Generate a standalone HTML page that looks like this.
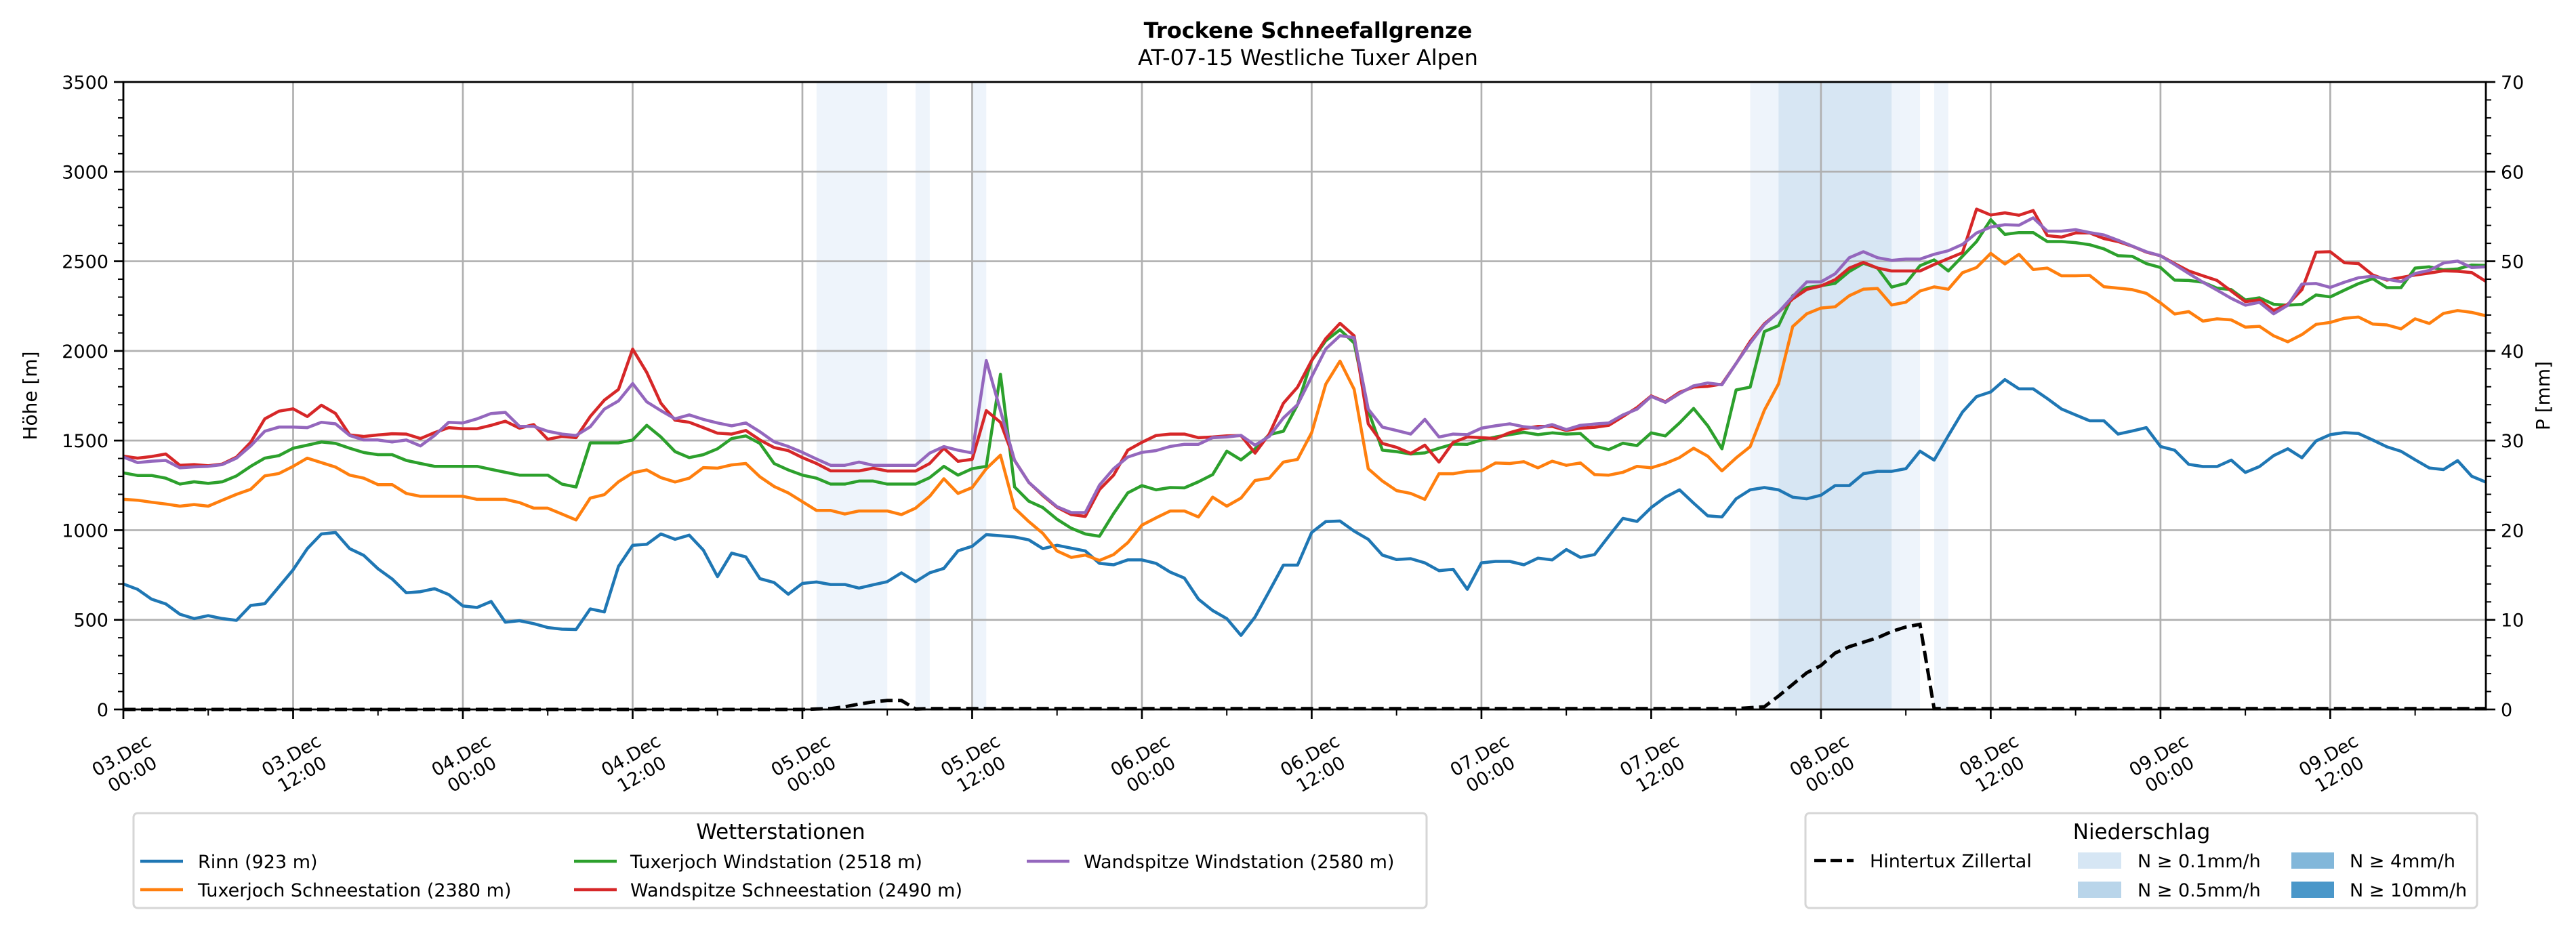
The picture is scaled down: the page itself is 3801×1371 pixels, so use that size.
<!DOCTYPE html>
<html><head><meta charset="utf-8"><style>
html,body{margin:0;padding:0;background:#fff;}
svg{display:block;font-family:"DejaVu Sans","Liberation Sans",sans-serif;}
</style></head><body>
<svg id="chart" width="3801" height="1371" viewBox="0 0 3801 1371" xmlns="http://www.w3.org/2000/svg">
<rect x="0" y="0" width="3801" height="1371" fill="#fff"/>
<text x="1930" y="56" text-anchor="middle" font-size="32" font-weight="bold">Trockene Schneefallgrenze</text>
<text x="1930" y="96" text-anchor="middle" font-size="32">AT-07-15 Westliche Tuxer Alpen</text>
<g id="bands"></g>
<g id="grid"></g>
<g id="series"></g>
<g id="axes"></g>
<text transform="translate(54,584) rotate(-90)" text-anchor="middle" font-size="28">Höhe [m]</text>
<text transform="translate(3762,584) rotate(-90)" text-anchor="middle" font-size="28">P [mm]</text>

<g>
<rect x="197" y="1200" width="1908" height="140" rx="6" fill="#fff" stroke="#d6d6d6" stroke-width="3"/>
<text x="1152" y="1238" text-anchor="middle" font-size="31">Wetterstationen</text>
<g><line x1="207" y1="1271" x2="270" y2="1271" stroke="#1f77b4" stroke-width="4.5"/><text x="292" y="1281" font-size="27">Rinn (923 m)</text></g>
<g><line x1="207" y1="1313" x2="270" y2="1313" stroke="#ff7f0e" stroke-width="4.5"/><text x="292" y="1323" font-size="27">Tuxerjoch Schneestation (2380 m)</text></g>
<g><line x1="847" y1="1271" x2="910" y2="1271" stroke="#2ca02c" stroke-width="4.5"/><text x="930" y="1281" font-size="27">Tuxerjoch Windstation (2518 m)</text></g>
<g><line x1="847" y1="1313" x2="910" y2="1313" stroke="#d62728" stroke-width="4.5"/><text x="930" y="1323" font-size="27">Wandspitze Schneestation (2490 m)</text></g>
<g><line x1="1515" y1="1271" x2="1578" y2="1271" stroke="#9467bd" stroke-width="4.5"/><text x="1599" y="1281" font-size="27">Wandspitze Windstation (2580 m)</text></g>
</g>

<g>
<rect x="2664" y="1200" width="991" height="140" rx="6" fill="#fff" stroke="#d6d6d6" stroke-width="3"/>
<text x="3160" y="1238" text-anchor="middle" font-size="31">Niederschlag</text>
<g><line x1="2677" y1="1270" x2="2735" y2="1270" stroke="#000" stroke-width="4.5" stroke-dasharray="17,7"/><text x="2759" y="1280" font-size="27">Hintertux Zillertal</text></g>
<g><rect x="3066" y="1258" width="64" height="24" fill="#d6e6f4"/><text x="3154" y="1280" font-size="27">N ≥ 0.1mm/h</text></g>
<g><rect x="3066" y="1301" width="64" height="24" fill="#b9d5ea"/><text x="3154" y="1323" font-size="27">N ≥ 0.5mm/h</text></g>
<g><rect x="3381" y="1258" width="63" height="24" fill="#82b7da"/><text x="3467" y="1280" font-size="27">N ≥ 4mm/h</text></g>
<g><rect x="3381" y="1301" width="63" height="24" fill="#4a97c9"/><text x="3467" y="1323" font-size="27">N ≥ 10mm/h</text></g>
</g>
</svg>
<script>
const rinn = [700,670,615,589,531,507,523,507,497,580,590,684,779,897,979,987,897,859,785,728,651,657,674,641,577,569,602,487,495,479,457,448,446,561,544,798,916,921,979,949,972,889,741,872,
851,730,708,643,703,711,697,697,677,695,713,762,713,762,787,885,910,975,969,962,946,897,916,900,884,815,807,834,834,815,766,733,615,552,507,413,516,659,805,805,987,1048,
1051,995,949,861,836,841,818,774,782,670,818,826,826,807,844,834,892,848,864,966,1066,1049,1126,1184,1225,1151,1080,1074,1175,1225,1238,1225,1184,1175,1195,1249,1249,1315,1328,1328,1343,1441,
1391,1527,1659,1745,1771,1840,1788,1788,1734,1676,1643,1610,1610,1536,1553,1572,1467,1446,1367,1355,1355,1391,1322,1355,1416,1454,1404,1498,1533,1544,1539,1503,1465,1440,1393,1347,1338,1388,1301,1268];
const tuxSchnee = [1172,1167,1156,1146,1134,1143,1134,1167,1200,1228,1303,1316,1356,1402,1377,1352,1307,1290,1254,1254,1205,1189,1189,1189,1189,1172,1172,1172,1154,1123,1123,1090,1057,1179,1198,1270,1320,1336,1293,1269,1290,1349,1346,1364,
1372,1298,1244,1208,1159,1110,1110,1090,1107,1107,1107,1087,1123,1189,1287,1205,1238,1343,1418,1123,1048,982,884,848,861,831,864,930,1028,1069,1107,1107,1074,1184,1134,1179,1277,1290,1380,1395,1544,1815,
1943,1786,1343,1274,1221,1205,1172,1315,1315,1328,1331,1375,1372,1382,1348,1385,1362,1375,1310,1307,1323,1356,1348,1372,1405,1457,1413,1331,1403,1466,1669,1816,2136,2207,2239,2246,2308,2344,2348,2256,2272,2334,
2357,2344,2436,2465,2544,2485,2539,2454,2462,2419,2419,2421,2358,2350,2342,2321,2268,2206,2219,2166,2179,2173,2133,2137,2084,2051,2091,2148,2159,2182,2189,2150,2145,2123,2179,2153,2209,2225,2215,2196];
const tuxWind = [1320,1305,1305,1290,1257,1270,1261,1270,1303,1356,1402,1416,1457,1474,1492,1484,1457,1433,1421,1421,1389,1372,1356,1356,1356,1356,1339,1323,1307,1307,1307,1257,1241,1487,1487,1487,1503,1585,1520,1438,1405,1421,1454,1511,
1526,1484,1372,1336,1307,1290,1257,1257,1274,1274,1257,1257,1257,1293,1356,1307,1343,1356,1870,1241,1162,1126,1061,1011,979,966,1093,1208,1249,1225,1238,1236,1270,1310,1441,1392,1454,1533,1552,1700,1946,2057,
2118,2044,1667,1446,1438,1425,1431,1457,1480,1479,1503,1520,1533,1546,1533,1543,1536,1539,1469,1449,1485,1472,1543,1526,1598,1679,1582,1454,1782,1798,2108,2141,2308,2353,2364,2377,2443,2489,2462,2356,2377,2475,
2508,2446,2528,2610,2732,2650,2660,2660,2610,2610,2604,2592,2569,2531,2528,2487,2465,2395,2393,2383,2350,2342,2284,2296,2260,2255,2260,2312,2301,2339,2375,2403,2353,2353,2462,2469,2452,2457,2479,2477];
const wandSchnee = [1413,1402,1411,1425,1362,1366,1359,1369,1408,1490,1621,1664,1677,1634,1697,1651,1531,1523,1531,1538,1536,1511,1544,1572,1566,1566,1585,1608,1569,1589,1507,1523,1516,1634,1725,1785,2010,1880,1708,1613,1602,1572,1541,1536,
1556,1503,1461,1444,1405,1372,1331,1331,1331,1346,1330,1330,1330,1372,1457,1384,1395,1667,1602,1389,1267,1193,1128,1087,1077,1226,1307,1446,1490,1528,1536,1536,1516,1520,1526,1528,1430,1536,1708,1798,1946,2069,
2154,2084,1593,1484,1462,1428,1474,1380,1490,1520,1516,1511,1544,1566,1579,1579,1556,1569,1574,1585,1634,1684,1749,1716,1769,1798,1802,1815,1930,2053,2151,2216,2290,2343,2362,2397,2462,2494,2462,2446,2446,2446,
2482,2515,2548,2791,2758,2770,2757,2783,2643,2635,2658,2658,2627,2610,2584,2551,2531,2487,2446,2419,2393,2334,2275,2285,2225,2260,2342,2551,2553,2492,2487,2424,2395,2409,2423,2434,2447,2444,2437,2388];
const wandWind = [1408,1377,1385,1389,1348,1353,1356,1366,1402,1470,1552,1575,1575,1572,1602,1593,1528,1503,1503,1492,1503,1470,1528,1602,1598,1621,1651,1657,1579,1579,1552,1536,1528,1577,1675,1721,1818,1716,1667,1621,1643,1618,1598,1582,
1598,1549,1493,1467,1434,1397,1362,1362,1380,1362,1362,1362,1362,1430,1466,1446,1431,1946,1667,1389,1267,1197,1131,1098,1098,1251,1343,1408,1434,1444,1467,1479,1479,1516,1520,1529,1474,1523,1626,1700,1856,2011,
2085,2074,1675,1575,1556,1536,1618,1520,1536,1533,1569,1582,1593,1577,1569,1589,1561,1585,1592,1598,1643,1675,1746,1713,1762,1805,1821,1811,1930,2044,2146,2216,2303,2385,2385,2430,2520,2553,2520,2505,2512,2512,
2539,2559,2594,2658,2691,2704,2701,2742,2668,2668,2676,2660,2647,2617,2585,2553,2531,2482,2432,2383,2339,2293,2255,2271,2207,2255,2373,2376,2354,2383,2408,2416,2400,2386,2432,2449,2490,2501,2465,2469];
const precip = [
0,0,0,0,0,0,0,0,0,0,
0,0,0,0,0,0,0,0,0,0,
0,0,0,0,0,0,0,0,0,0,
0,0,0,0,0,0,0,0,0,0,
0,0,0,0,0,0,0,0,0,
0.05,0.1,0.3,0.6,0.85,1.0,1.0,0.05,
0.1,0.1,0.1,0.1,0.1,0.1,0.1,0.1,0.1,0.1,
0.1,0.1,0.1,0.1,0.1,0.1,0.1,0.1,0.1,0.1,
0.1,0.1,0.1,0.1,0.1,0.1,0.1,0.1,0.1,0.1,
0.1,0.1,0.1,0.1,0.1,0.1,0.1,0.1,0.1,0.1,
0.1,0.1,0.1,0.1,0.1,0.1,0.1,0.1,0.1,0.1,
0.1,0.1,0.1,0.1,0.1,0.1,0.1,0.1,
0.2,0.3,1.5,2.8,4.1,4.9,6.3,7.0,7.5,8.0,8.7,9.2,9.5,
0.1,0.1,0.1,0.1,0.1,0.1,0.1,0.1,0.1,0.1,
0.1,0.1,0.1,0.1,0.1,0.1,0.1,0.1,0.1,0.1,
0.1,0.1,0.1,0.1,0.1,0.1,0.1,0.1,0.1,0.1,
0.1,0.1,0.1,0.1,0.1,0.1,0.1,0.1,0.1,0.1];
const bandStart = [49,56,60,115,117,125,128];
const bandEnd = [54,57,61,117,125,127,129];
const bandLevel = [1,1,1,1,2,1,1];
const xTickDates = ["03.Dec","03.Dec","04.Dec","04.Dec","05.Dec","05.Dec","06.Dec","06.Dec","07.Dec","07.Dec","08.Dec","08.Dec","09.Dec","09.Dec"];
const xTickTimes = ["00:00","12:00","00:00","12:00","00:00","12:00","00:00","12:00","00:00","12:00","00:00","12:00","00:00","12:00"];
const yTicks = [0,500,1000,1500,2000,2500,3000,3500];
const y2Ticks = [0,10,20,30,40,50,60,70];

const NS='http://www.w3.org/2000/svg';
const L=182,R=3668,T=121,B=1047,HMAX=167,YMAX=3500,PMAX=70;
const xs=h=>L+h*(R-L)/HMAX;
const ys=v=>B-v*(B-T)/YMAX;
const ps=p=>B-p*(B-T)/PMAX;
function mk(tag,attrs,parent){const e=document.createElementNS(NS,tag);for(const k in attrs)e.setAttribute(k,attrs[k]);parent.appendChild(e);return e;}
const gB=document.getElementById('bands'),gG=document.getElementById('grid'),gS=document.getElementById('series'),gA=document.getElementById('axes');
const bandColors={1:'#eef4fb',2:'#d7e6f3'};
for(let i=0;i<bandStart.length;i++){
  const r=mk('rect',{x:xs(bandStart[i]),y:T,width:xs(bandEnd[i])-xs(bandStart[i]),height:B-T,fill:bandColors[bandLevel[i]]},gB);
  
  
}
for(let i=0;i<xTickDates.length;i++){
  const x=xs(i*12);
  mk('line',{x1:x,y1:T,x2:x,y2:B,stroke:'#b0b0b0','stroke-width':2.7},gG);
}
yTicks.forEach(v=>{const y=ys(v);mk('line',{x1:L,y1:y,x2:R,y2:y,stroke:'#b0b0b0','stroke-width':2.7},gG);});
const series=[[rinn,'#1f77b4','line-rinn'],[tuxSchnee,'#ff7f0e','line-tuxerjoch-schnee'],[tuxWind,'#2ca02c','line-tuxerjoch-wind'],[wandSchnee,'#d62728','line-wandspitze-schnee'],[wandWind,'#9467bd','line-wandspitze-wind']];
series.forEach(s=>{
  const d=s[0].map((v,i)=>(i?'L':'M')+xs(i).toFixed(1)+','+ys(v).toFixed(1)).join('');
  const p=mk('path',{d:d,fill:'none',stroke:s[1],'stroke-width':4.5,'stroke-linejoin':'round'},gS);
  
  
});
{
  const d=precip.map((v,i)=>(i?'L':'M')+xs(i).toFixed(1)+','+ps(v).toFixed(1)).join('');
  const p=mk('path',{d:d,fill:'none',stroke:'#000','stroke-width':5,'stroke-dasharray':'18,8'},gS);
  
  
}
mk('rect',{x:L,y:T,width:R-L,height:B-T,fill:'none',stroke:'#000','stroke-width':2.8},gA);
for(let h=0;h<=HMAX;h+=6){
  const x=xs(h),maj=h%12===0;
  mk('line',{x1:x,y1:B,x2:x,y2:B+(maj?14:9),stroke:'#000','stroke-width':maj?2.7:2},gA);
}
for(let i=0;i<xTickDates.length;i++){
  const x=xs(i*12);
  const g=mk('g',{transform:'translate('+(x+5)+',1128) rotate(-30)'},gA);
  
  
  const t1=mk('text',{x:0,y:-6,'text-anchor':'middle','font-size':27},g);t1.textContent=xTickDates[i];
  const t2=mk('text',{x:0,y:26,'text-anchor':'middle','font-size':27},g);t2.textContent=xTickTimes[i];
}
for(let v=0;v<=YMAX;v+=100){
  const y=ys(v),maj=v%500===0;
  mk('line',{x1:L,y1:y,x2:L-(maj?14:8),y2:y,stroke:'#000','stroke-width':maj?2.7:2},gA);
}
yTicks.forEach(v=>{
  const t=mk('text',{x:L-22,y:ys(v)+10,'text-anchor':'end','font-size':27},gA);
  
  
  t.textContent=v;
});
for(let p=0;p<=PMAX;p+=2){
  const y=ps(p),maj=p%10===0;
  mk('line',{x1:R,y1:y,x2:R+(maj?14:8),y2:y,stroke:'#000','stroke-width':maj?2.7:2},gA);
}
y2Ticks.forEach(p=>{
  const t=mk('text',{x:R+22,y:ps(p)+10,'text-anchor':'start','font-size':27},gA);
  
  
  t.textContent=p;
});
</script>
</body></html>
